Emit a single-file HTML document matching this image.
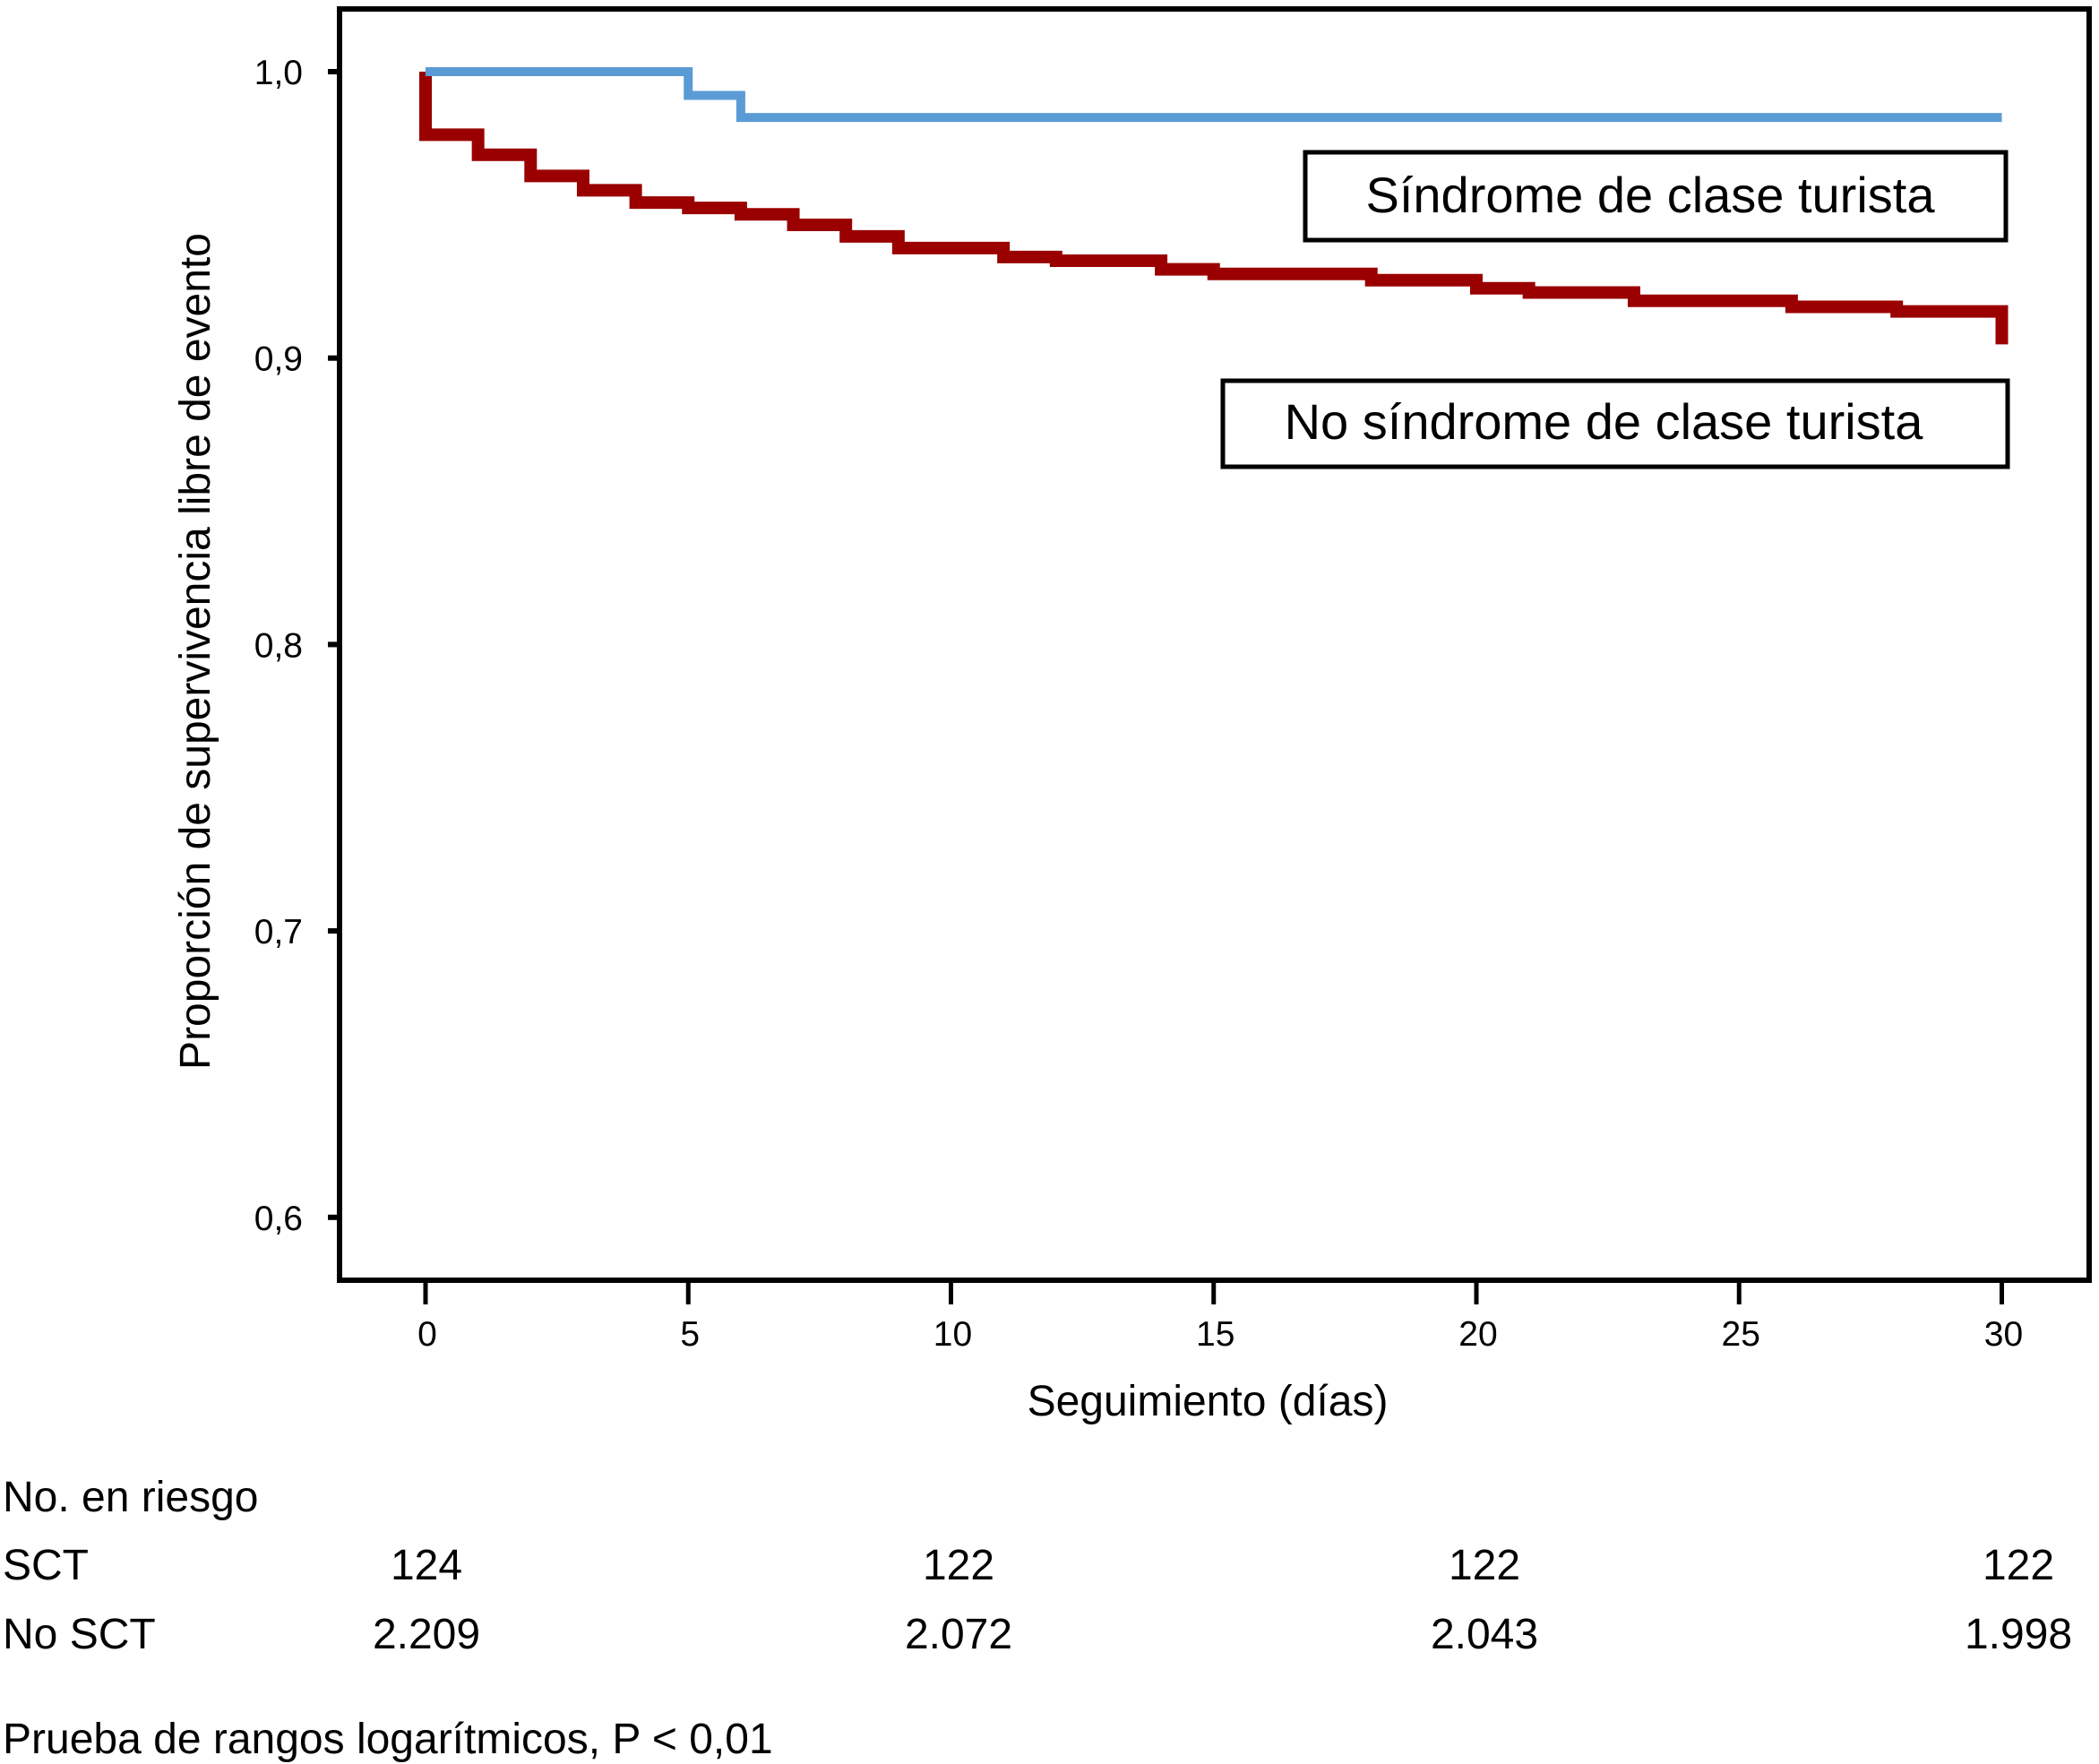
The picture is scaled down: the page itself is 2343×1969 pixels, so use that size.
<!DOCTYPE html>
<html><head><meta charset="utf-8"><style>
html,body{margin:0;padding:0;background:#fff;}
svg{display:block;font-family:"Liberation Sans",Arial,sans-serif;}
</style></head><body>
<svg id="chart" width="2343" height="1969" viewBox="0 0 2343 1969" xmlns="http://www.w3.org/2000/svg">
<rect x="0" y="0" width="2343" height="1969" fill="#fff"/>
<g id="axes"></g>
<g id="series"></g>
<rect x="379" y="10" width="1953" height="1419" fill="none" stroke="#000" stroke-width="6"/>
<g>
<rect x="1457" y="170" width="782" height="98" fill="#fff" stroke="#000" stroke-width="5"/>
<text x="1842" y="237" font-size="56" text-anchor="middle">Síndrome de clase turista</text>
</g>
<g>
<rect x="1365" y="425" width="876" height="96" fill="#fff" stroke="#000" stroke-width="5"/>
<text x="1790" y="490" font-size="56" text-anchor="middle">No síndrome de clase turista</text>
</g>
<text transform="translate(234,727) rotate(-90)" font-size="48" text-anchor="middle">Proporción de supervivencia libre de evento</text>
<text x="1348" y="1580" font-size="48" text-anchor="middle">Seguimiento (días)</text>
<text x="3" y="1687" font-size="48">No. en riesgo</text>
<text x="3" y="1763" font-size="48">SCT</text>
<text x="3" y="1840" font-size="48">No SCT</text>
<g id="risk"></g>
<text x="3" y="1957" font-size="48">Prueba de rangos logarítmicos, P &lt; 0,01</text>
</svg>
<script>
const xTicks = [0, 5, 10, 15, 20, 25, 30];
const yTicks = [0.6, 0.7, 0.8, 0.9, 1.0];
const yTickLabels = ["0,6", "0,7", "0,8", "0,9", "1,0"];
const sctTimes = [0, 5, 6, 30];
const sctValues = [1.0, 0.9917, 0.984, 0.984];
const noSctTimes = [0, 0, 1, 2, 3, 4, 5, 6, 7, 8, 9, 11, 12, 14, 15, 18, 20, 21, 23, 26, 28, 30, 30];
const noSctValues = [1.0, 0.978, 0.971, 0.9636, 0.9586, 0.9543, 0.9524, 0.9502, 0.9465, 0.9425, 0.9384, 0.9353, 0.934, 0.931, 0.9294, 0.9272, 0.9244, 0.9229, 0.920, 0.9179, 0.9163, 0.9163, 0.9048];
const riskTimes = [0, 10, 20, 30];
const riskSct = ["124", "122", "122", "122"];
const riskNoSct = ["2.209", "2.072", "2.043", "1.998"];
const riskLabelX = [476, 1070, 1657, 2253];

const NS = "http://www.w3.org/2000/svg";
const xs = d => 475 + d * 58.65;
const ys = v => 80 + (1 - v) * 3197;
function mk(tag, attrs, parent){const e=document.createElementNS(NS,tag);for(const k in attrs)e.setAttribute(k,attrs[k]);parent.appendChild(e);return e;}
const axes = document.getElementById('axes');
yTicks.forEach((v,i)=>{
  const t = mk('line',{x1:366,x2:381,y1:ys(v),y2:ys(v),stroke:'#000','stroke-width':6},axes);
  
  
  const l = mk('text',{x:338,y:ys(v)+14,'font-size':39,'text-anchor':'end'},axes);
  l.textContent = yTickLabels[i];
  
  
});
xTicks.forEach(d=>{
  const t = mk('line',{x1:xs(d),x2:xs(d),y1:1429,y2:1456,stroke:'#000','stroke-width':5},axes);
  
  
  const l = mk('text',{x:xs(d)+2,y:1502,'font-size':39,'text-anchor':'middle'},axes);
  l.textContent = d;
  
  
});
function stepPath(ts, vs){
  let d = 'M'+xs(ts[0])+','+ys(vs[0]);
  for(let i=1;i<ts.length;i++){ d += ' H'+xs(ts[i])+' V'+ys(vs[i]); }
  return d;
}
const series = document.getElementById('series');
const red = mk('path',{d:stepPath(noSctTimes,noSctValues),fill:'none',stroke:'#9a0000','stroke-width':14,'stroke-linejoin':'miter'},series);


const blue = mk('path',{d:stepPath(sctTimes,sctValues),fill:'none',stroke:'#5b9bd5','stroke-width':10},series);


const risk = document.getElementById('risk');
riskTimes.forEach((t,i)=>{
  const a = mk('text',{x:riskLabelX[i],y:1763,'font-size':48,'text-anchor':'middle'},risk);
  a.textContent = riskSct[i];
  
  
  const b = mk('text',{x:riskLabelX[i],y:1840,'font-size':48,'text-anchor':'middle'},risk);
  b.textContent = riskNoSct[i];
  
  
});
</script>
</body></html>
